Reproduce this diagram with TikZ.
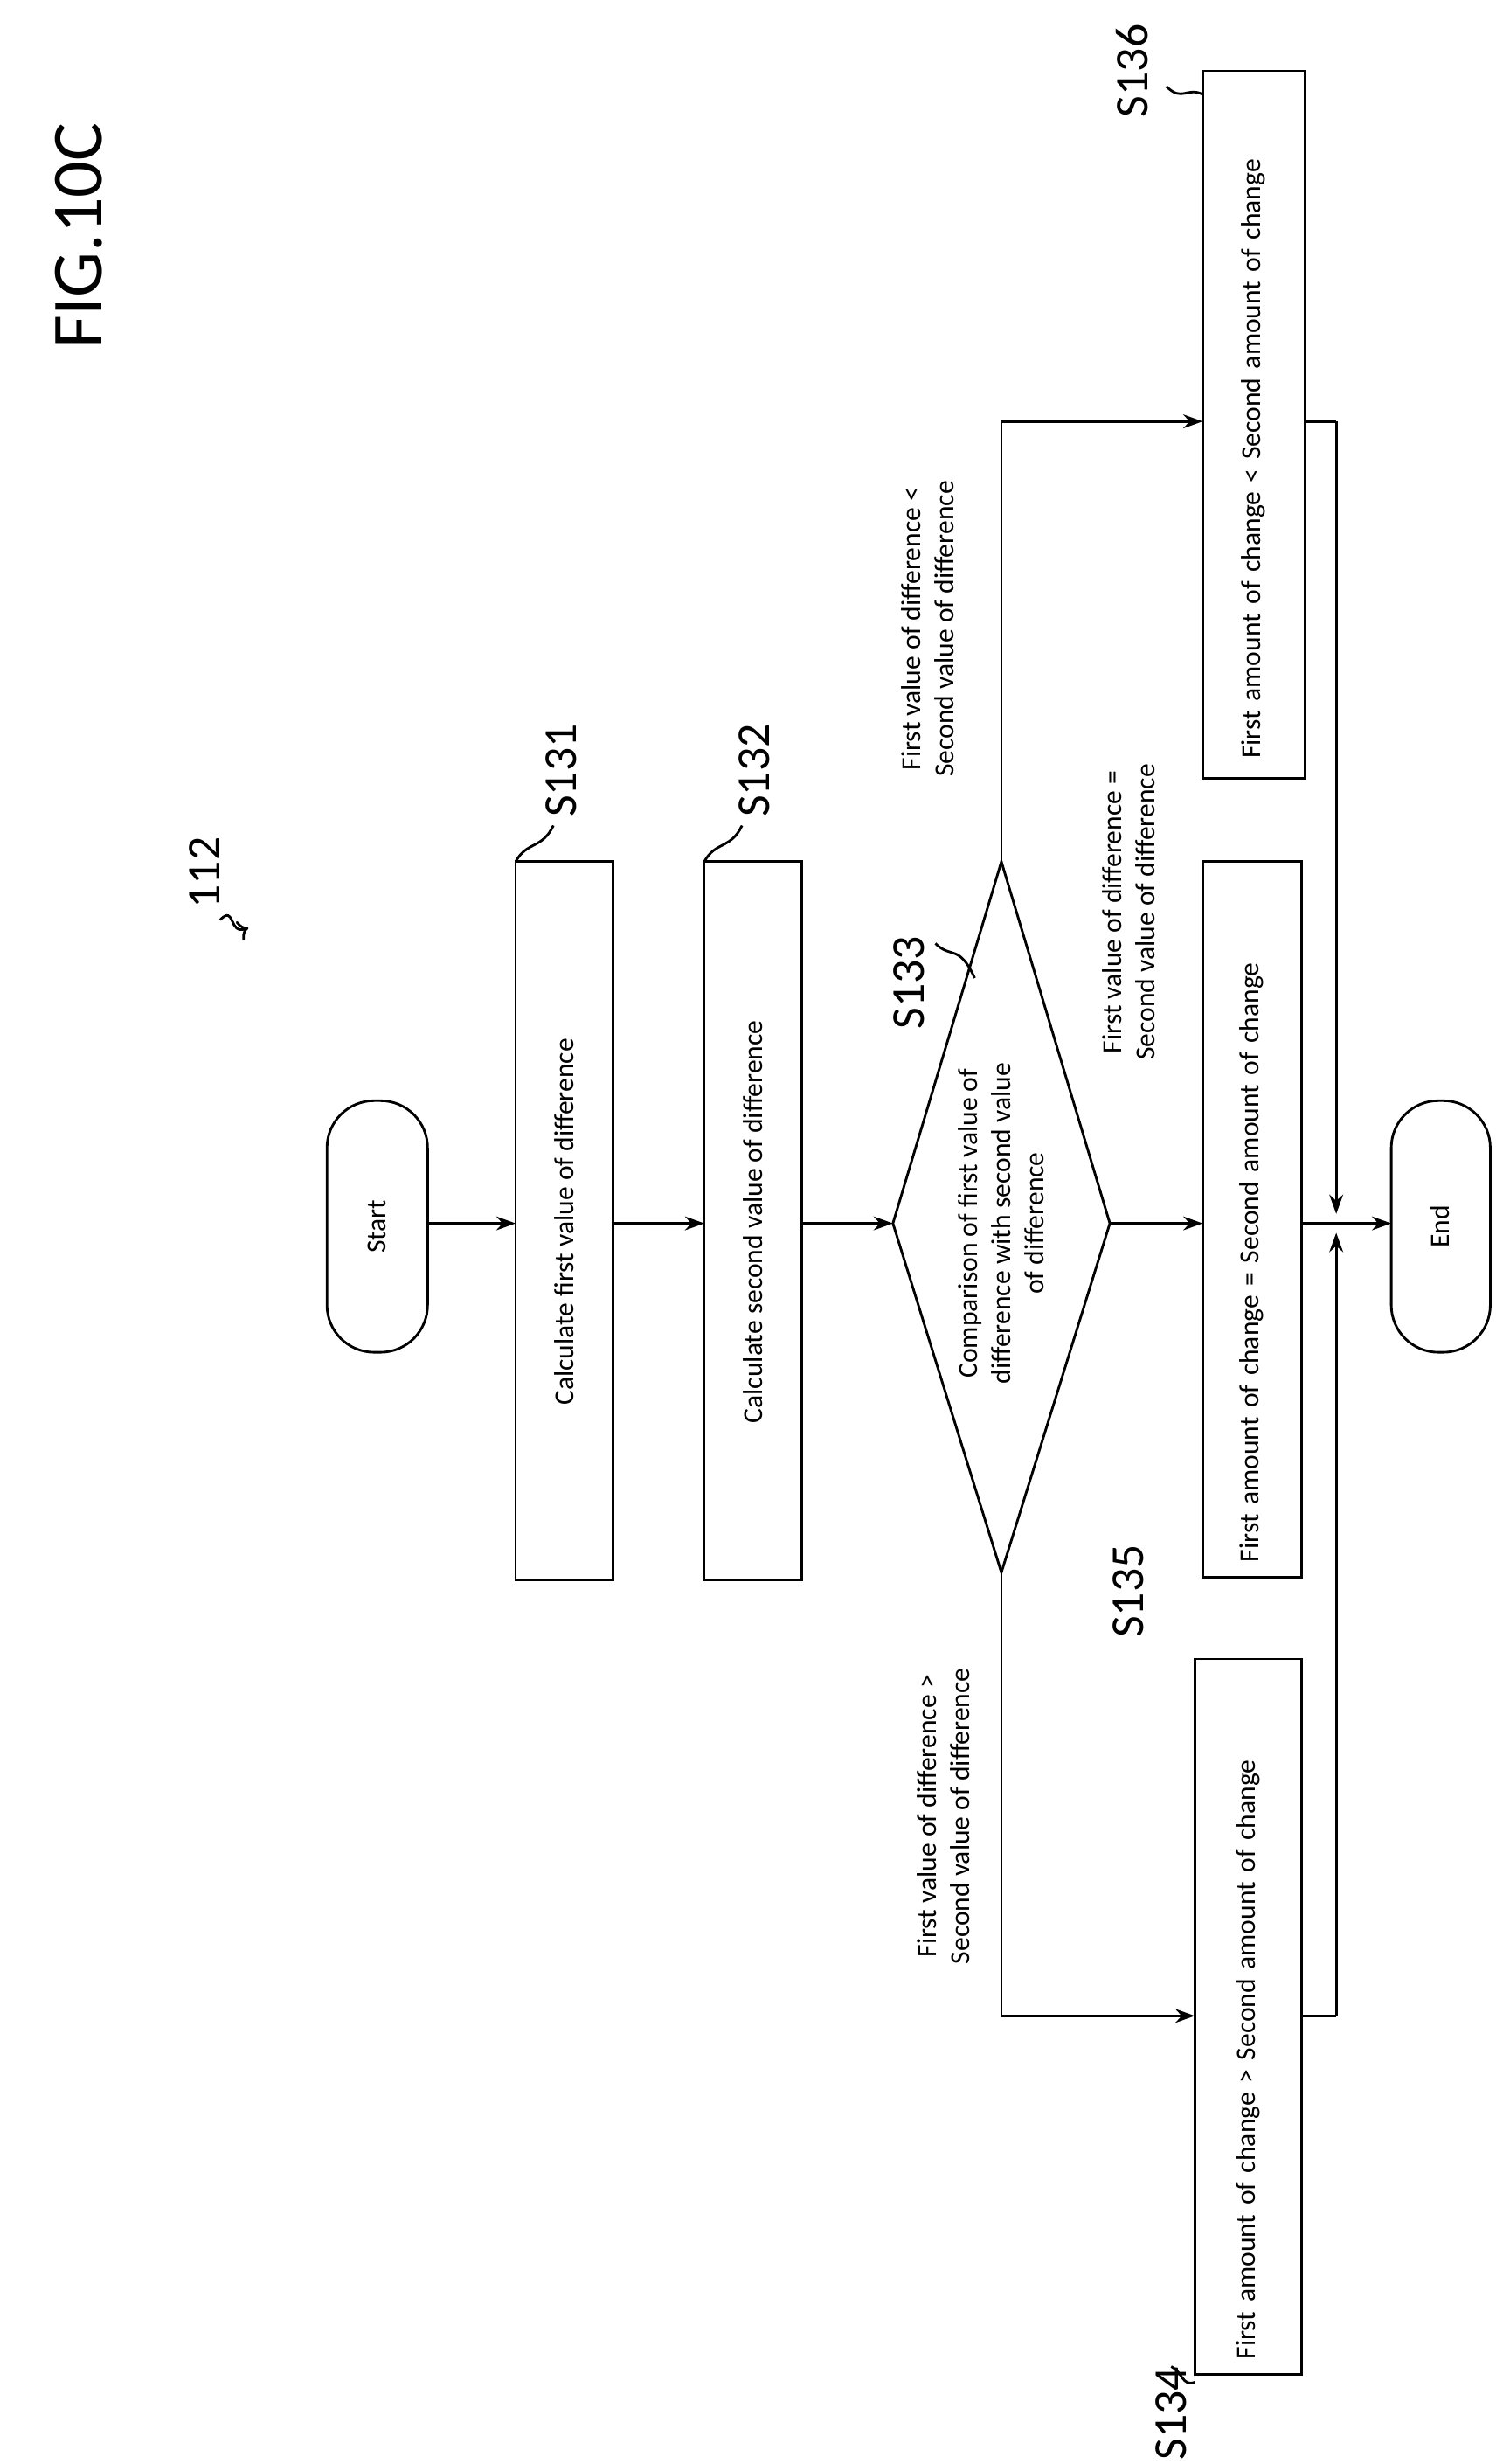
\documentclass[tikz,border=0pt]{standalone}
\usepackage{fontspec}
\setmainfont{Carlito}
\usetikzlibrary{arrows.meta,shapes.geometric}
\begin{document}
\begin{tikzpicture}[x=0.02cm,y=-0.02cm,
  box/.style={draw,line width=0.9pt},
  lbl/.style={font=\fontsize{10}{12}\selectfont,rotate=90,align=center},
  stp/.style={font=\fontsize{17}{20}\selectfont,rotate=90},
  arr/.style={-{Stealth[length=7pt,width=5pt]},line width=0.9pt},
  ln/.style={line width=0.9pt}]
\useasboundingbox (0,0) rectangle (960,1567);
\node[font=\fontsize{26}{30}\selectfont,rotate=90] (fig) at (50,150) {FIG.10C};
\node[stp] (n112) at (130,555) {112};
\draw[ln,->] (140,585) .. controls (150,575) and (145,595) .. (158,590);
% start
\draw[box,rounded corners=0.6cm] (208,700) rectangle (272,860);
\node[lbl] (start) at (240,780) {Start};
\draw[box] (328,548) rectangle (390,1005);
\node[lbl] (s131) at (359,777) {Calculate first value of difference};
\draw[box] (448,548) rectangle (510,1005);
\node[lbl] (s132) at (479,777) {Calculate second value of difference};
\node[stp] (l131) at (357,490) {S131};
\node[stp] (l132) at (480,490) {S132};
\draw[ln] (328,548) .. controls (335,535) and (345,540) .. (352,525);
\draw[ln] (448,548) .. controls (455,535) and (465,540) .. (472,525);
\draw[arr] (272,778) -- (328,778);
\draw[arr] (390,778) -- (448,778);
\draw[arr] (510,778) -- (568,778);
% diamond
\draw[box] (568,778) -- (637,548) -- (706,778) -- (637,1000) -- cycle;
\coordinate (dT) at (637,548); \coordinate (dR) at (706,778); \coordinate (dB) at (637,1000);
\node[lbl] (s133) at (637,778) {Comparison of first value of\\difference with second value\\of difference};
\node[stp] (l133) at (578,625) {S133};
\draw[ln] (595,600) .. controls (605,610) and (610,600) .. (620,622);
% boxes right
\draw[box] (765,45) rectangle (830,495);
\node[lbl,align=left,text width=8.5cm] (s136) at (797,270) {First amount of change < Second amount of change};
\draw[box] (765,548) rectangle (828,1003);
\node[lbl,align=left,text width=8.7cm] (s135) at (796,776) {First amount of change = Second amount of change};
\draw[box] (760,1055) rectangle (828,1510);
\node[lbl,align=left,text width=8.7cm] (s134) at (794,1283) {First amount of change > Second amount of change};
\node[stp] (l136) at (720,45) {S136};
\node[stp] (l135) at (718,1012) {S135};
\node[stp] (l134) at (745,1535) {S134};
\draw[ln] (765,60) .. controls (755,55) and (752,65) .. (742,55);
\draw[ln] (760,1515) .. controls (752,1518) and (752,1508) .. (745,1505);
% branches
\draw[arr] (dT) -- (637,268) -- (765,268);
\draw[arr] (dR) -- (765,778);
\draw[arr] (dB) -- (637,1282) -- (760,1282);
\node[lbl] (c1) at (590,400) {First value of difference <\\Second value of difference};
\node[lbl] (c2) at (718,580) {First value of difference =\\Second value of difference};
\node[lbl] (c3) at (600,1155) {First value of difference >\\Second value of difference};
% merge
\draw[ln] (830,268) -- (850,268);
\draw[arr] (850,268) -- (850,772);
\draw[ln] (828,1282) -- (850,1282);
\draw[arr] (850,1282) -- (850,784);
\draw[ln] (828,778) -- (850,778);
\draw[arr] (850,778) -- (885,778);
\draw[box,rounded corners=0.6cm] (885,700) rectangle (948,860);
\node[lbl] (end) at (916,780) {End};
\end{tikzpicture}
\end{document}
